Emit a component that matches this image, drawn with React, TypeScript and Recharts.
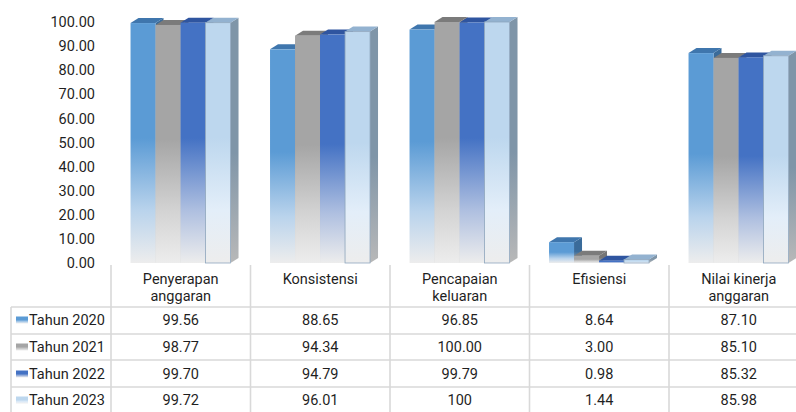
import { Bar, BarChart, XAxis, YAxis } from "recharts";

// Capaian kinerja anggaran per aspek, 2020-2023
const CATEGORIES = ["Penyerapan anggaran", "Konsistensi", "Pencapaian keluaran", "Efisiensi", "Nilai kinerja anggaran"];
const TAHUN_2020 = [99.56, 88.65, 96.85, 8.64, 87.1];
const TAHUN_2021 = [98.77, 94.34, 100.0, 3.0, 85.1];
const TAHUN_2022 = [99.7, 94.79, 99.79, 0.98, 85.32];
const TAHUN_2023 = [99.72, 96.01, 100, 1.44, 85.98];
const SERIES_NAMES = ["Tahun 2020", "Tahun 2021", "Tahun 2022", "Tahun 2023"];
const Y_TICKS = [0, 10, 20, 30, 40, 50, 60, 70, 80, 90, 100];

const KEYS = ["t2020", "t2021", "t2022", "t2023"];
const VALUES = [TAHUN_2020, TAHUN_2021, TAHUN_2022, TAHUN_2023];

const data = CATEGORIES.map((category, i) => ({
  category,
  t2020: TAHUN_2020[i],
  t2021: TAHUN_2021[i],
  t2022: TAHUN_2022[i],
  t2023: TAHUN_2023[i],
}));

// last row is shown in "general" format, the others with two decimals
const formatCell = (row: number, v: number) => (row === 3 ? String(v) : v.toFixed(2));

const COLORS = [
  { front: "#5b9bd5", light: "#b9d3ec", top: "#3f76ad", side: "#3a6b9a", stroke: "none" },
  { front: "#a5a5a5", light: "#d3d3d3", top: "#7b7b7b", side: "#767676", stroke: "none" },
  { front: "#4472c4", light: "#aebfe0", top: "#2f55a0", side: "#2c4f8c", stroke: "none" },
  { front: "#bdd7ee", light: "#e3eef9", top: "#93b2d0", side: "#7f95a8", stroke: "#8ea6bd" },
];

const CHART_W = 810;
const CHART_H = 412;
const AXIS_W = 111;
const PLOT_RIGHT = 808.5;
const COL_W = (PLOT_RIGHT - AXIS_W) / CATEGORIES.length;
const DX = 8;
const DY = 5;
const FONT = "Roboto, 'Open Sans', sans-serif";
const FONT_SIZE = 14.5;
const TEXT = "#1f1f1f";
const GRID = "#d9d9d9";

function makeBar3D(s: number) {
  const c = COLORS[s];
  return function Bar3D(props: any) {
    const { x, y, width, height } = props;
    if (width == null || height == null) return null;
    const top = `${x},${y} ${x + DX},${y - DY} ${x + width + DX},${y - DY} ${x + width},${y}`;
    const side = `${x + width},${y} ${x + width + DX},${y - DY} ${x + width + DX},${y + height - DY} ${x + width},${y + height}`;
    return (
      <g>
        <polygon points={side} fill={`url(#side-${s})`} />
        <polygon points={top} fill={c.top} />
        <rect x={x} y={y} width={width} height={height} fill={`url(#front-${s})`} stroke={c.stroke} strokeWidth={0.8} />
      </g>
    );
  };
}

const SHAPES = COLORS.map((_, s) => makeBar3D(s));

function wrapLabel(label: string) {
  const cut = label.lastIndexOf(" ");
  return cut < 0 ? [label] : [label.slice(0, cut), label.slice(cut + 1)];
}

// header row + value rows of the data table, one column per category
function TableTick(props: any) {
  const { x, y, payload, index } = props;
  const left = x - COL_W / 2;
  const right = x + COL_W / 2;
  const rowLines = [44, 71, 97, 124];
  const rowMid = [57, 84, 111, 137];
  return (
    <g fontFamily={FONT} fontSize={FONT_SIZE} fill={TEXT}>
      <line x1={left} x2={left} y1={y + 2} y2={CHART_H} stroke={GRID} strokeWidth={1.6} />
      {rowLines.map((d) => (
        <line key={d} x1={left} x2={right} y1={y + d} y2={y + d} stroke={GRID} strokeWidth={1.6} />
      ))}
      {wrapLabel(payload.value).map((t, k) => (
        <text key={t} x={x} y={y + 16 + k * 17} textAnchor="middle" dominantBaseline="central">
          {t}
        </text>
      ))}
      {VALUES.map((vals, r) => (
        <text key={r} x={x} y={y + rowMid[r]} textAnchor="middle" dominantBaseline="central">
          {formatCell(r, vals[index])}
        </text>
      ))}
      {index === 0 && (
        <g>
          <line x1={11} x2={11} y1={y + 44} y2={CHART_H} stroke={GRID} strokeWidth={1.6} />
          {rowLines.map((d) => (
            <line key={d} x1={11} x2={left} y1={y + d} y2={y + d} stroke={GRID} strokeWidth={1.6} />
          ))}
          {SERIES_NAMES.map((name, r) => (
            <g key={name}>
              <rect x={16} y={y + rowMid[r] - 3.5} width={12} height={7} fill={`url(#front-${r})`} />
              <text x={29} y={y + rowMid[r]} dominantBaseline="central">
                {name}
              </text>
            </g>
          ))}
        </g>
      )}
    </g>
  );
}

export default function App() {
  return (
    <div style={{ width: 796, height: 412, overflow: "hidden", background: "#fff" }}>
      <style>{"body{margin:0}"}</style>
      <BarChart
        width={CHART_W}
        height={CHART_H}
        data={data}
        margin={{ top: 22, right: CHART_W - PLOT_RIGHT, left: 0, bottom: 0 }}
        barCategoryGap="14%"
        barGap={0}
        style={{ fontFamily: FONT }}
      >
        <defs>
          {COLORS.map((c, s) => (
            <linearGradient key={`f${s}`} id={`front-${s}`} x1="0" y1="0" x2="0" y2="1">
              <stop offset="0" stopColor={c.front} />
              <stop offset="0.48" stopColor={c.front} />
              <stop offset="0.78" stopColor={c.light} />
              <stop offset="1" stopColor="#ededed" />
            </linearGradient>
          ))}
          {COLORS.map((c, s) => (
            <linearGradient key={`s${s}`} id={`side-${s}`} x1="0" y1="0" x2="0" y2="1">
              <stop offset="0" stopColor={c.side} />
              <stop offset="0.55" stopColor={c.side} />
              <stop offset="1" stopColor="#b8b8b8" />
            </linearGradient>
          ))}
        </defs>
        <XAxis
          dataKey="category"
          axisLine={false}
          tickLine={false}
          tickSize={0}
          tickMargin={0}
          height={CHART_H - 263}
          interval={0}
          tick={<TableTick />}
        />
        <YAxis
          domain={[0, 100]}
          ticks={Y_TICKS}
          width={AXIS_W}
          axisLine={false}
          tickLine={false}
          tickSize={0}
          tickMargin={16}
          tickFormatter={(v: number) => v.toFixed(2)}
          tick={{ fill: TEXT, fontSize: FONT_SIZE, fontFamily: FONT }}
        />
        {KEYS.map((k, s) => (
          <Bar key={k} dataKey={k} name={SERIES_NAMES[s]} shape={SHAPES[s]} isAnimationActive={false} />
        ))}
      </BarChart>
    </div>
  );
}
